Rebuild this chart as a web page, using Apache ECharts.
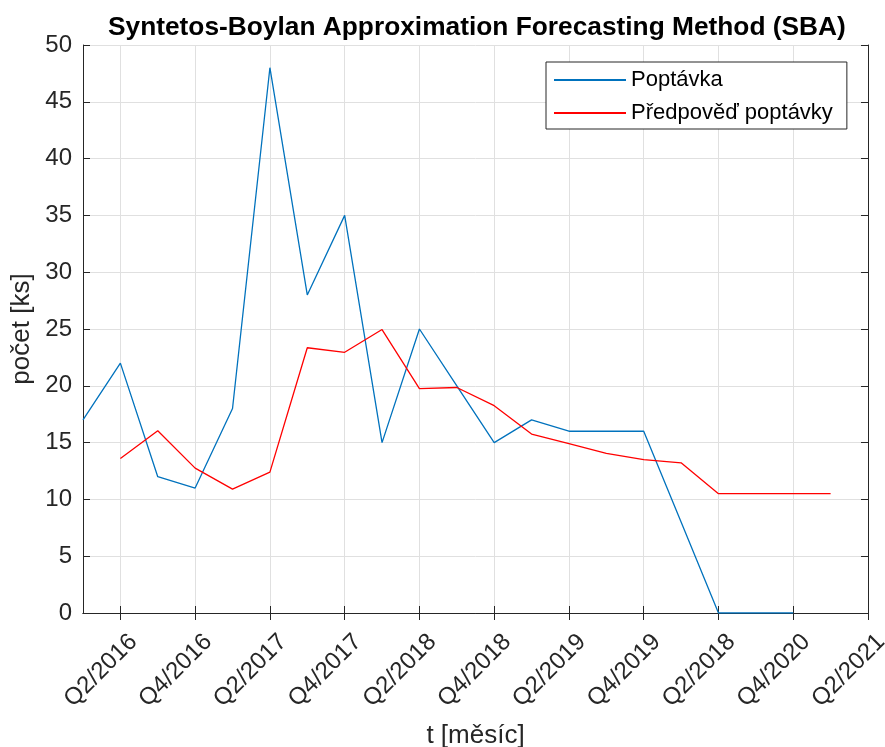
<!DOCTYPE html>
<html>
<head>
<meta charset="utf-8">
<script src="https://cdn.jsdelivr.net/npm/echarts@6/dist/echarts.min.js"></script>
<style>html,body{margin:0;padding:0;background:#fff;}#c{width:885px;height:747px;}</style>
</head>
<body>
<div id="c"></div>
<script>
const categories = ['Q1/2016','Q2/2016','Q3/2016','Q4/2016','Q1/2017','Q2/2017','Q3/2017','Q4/2017',
  'Q1/2018','Q2/2018','Q3/2018','Q4/2018','Q1/2019','Q2/2019','Q3/2019','Q4/2019',
  'Q1/2020','Q2/2020','Q3/2020','Q4/2020','Q1/2021','Q2/2021'];
const tickLabels = ['Q2/2016','Q4/2016','Q2/2017','Q4/2017','Q2/2018','Q4/2018','Q2/2019','Q4/2019','Q2/2018','Q4/2020','Q2/2021'];
const demand = [17,22,12,11,18,48,28,35,15,25,20,15,17,16,16,16,8,0,0,0,null,null];
const forecast = [null,13.6,16.05,12.75,10.9,12.4,23.35,22.95,24.95,19.75,19.85,18.25,15.75,14.9,14.05,13.5,13.22,10.5,10.5,10.5,10.5,null];
const seriesNames = ['Poptávka','Předpověď poptávky'];
const yTicks = [0,5,10,15,20,25,30,35,40,45,50];

const FONT = '"Liberation Sans", Arial, Helvetica, sans-serif';
const chart = echarts.init(document.getElementById('c'), null, {renderer:'canvas'});
const axisCol = '#262626';
const gridCol = '#e0e0e0';
const baseX = {
  type:'category', data:categories, boundaryGap:false,
  axisLine:{show:true, lineStyle:{color:axisCol, width:1}},
  axisTick:{show:true, inside:true, length:7, interval:(i)=>i%2===1, lineStyle:{color:axisCol}},
};
chart.setOption({
  animation:false,
  backgroundColor:'#fff',
  title:{text:'Syntetos-Boylan Approximation Forecasting Method (SBA)', left:103, top:10,
    textStyle:{fontFamily:FONT, fontSize:26.3, fontWeight:'bold', color:'#000'}},
  legend:{orient:'vertical', left:546, top:62, width:301, data:seriesNames,
    backgroundColor:'#fff', borderColor:axisCol, borderWidth:1,
    padding:[7,14,5,8], itemGap:11, itemWidth:72, itemHeight:2, icon:'rect',
    textStyle:{fontFamily:FONT, fontSize:22, color:'#000'}},
  grid:{left:83, right:17, top:45, bottom:134, show:false, outerBoundsMode:'none', containLabel:false},
  xAxis:[Object.assign({}, baseX, {
      position:'bottom',
      name:'t [měsíc]', nameLocation:'middle', nameGap:109,
      nameTextStyle:{fontFamily:FONT, fontSize:26, color:axisCol},
      axisLabel:{interval:0, rotate:45, margin:12, verticalAlign:'top', lineHeight:37,
        fontFamily:FONT, fontSize:24, color:axisCol,
        formatter:(v,i)=> i%2===1 ? tickLabels[(i-1)/2] : ''},
      splitLine:{show:true, interval:(i)=>i%2===1, lineStyle:{color:gridCol, width:1}}
    }),
    Object.assign({}, baseX, {position:'top', axisLabel:{show:false}, splitLine:{show:false}})
  ],
  yAxis:[{type:'value', min:yTicks[0], max:yTicks[yTicks.length-1], interval:5, position:'left',
      name:'počet [ks]', nameLocation:'middle', nameGap:48,
      nameTextStyle:{fontFamily:FONT, fontSize:26, color:axisCol},
      axisLine:{show:true, lineStyle:{color:axisCol}},
      axisTick:{show:true, inside:true, length:7, lineStyle:{color:axisCol}},
      axisLabel:{margin:11, fontFamily:FONT, fontSize:24, color:axisCol},
      splitLine:{show:true, lineStyle:{color:gridCol}}},
    {type:'value', min:0, max:50, interval:5, position:'right',
      axisLine:{show:true, lineStyle:{color:axisCol}},
      axisTick:{show:true, inside:true, length:7, lineStyle:{color:axisCol}},
      axisLabel:{show:false}, splitLine:{show:false}}
  ],
  series:[
    {name:seriesNames[0], type:'line', data:demand, symbol:'none', color:'#0072BD',
      lineStyle:{width:1.3, color:'#0072BD'}, connectNulls:false},
    {name:seriesNames[1], type:'line', data:forecast, symbol:'none', color:'#FF0000',
      lineStyle:{width:1.3, color:'#FF0000'}, connectNulls:false}
  ]
});
</script>
</body>
</html>
